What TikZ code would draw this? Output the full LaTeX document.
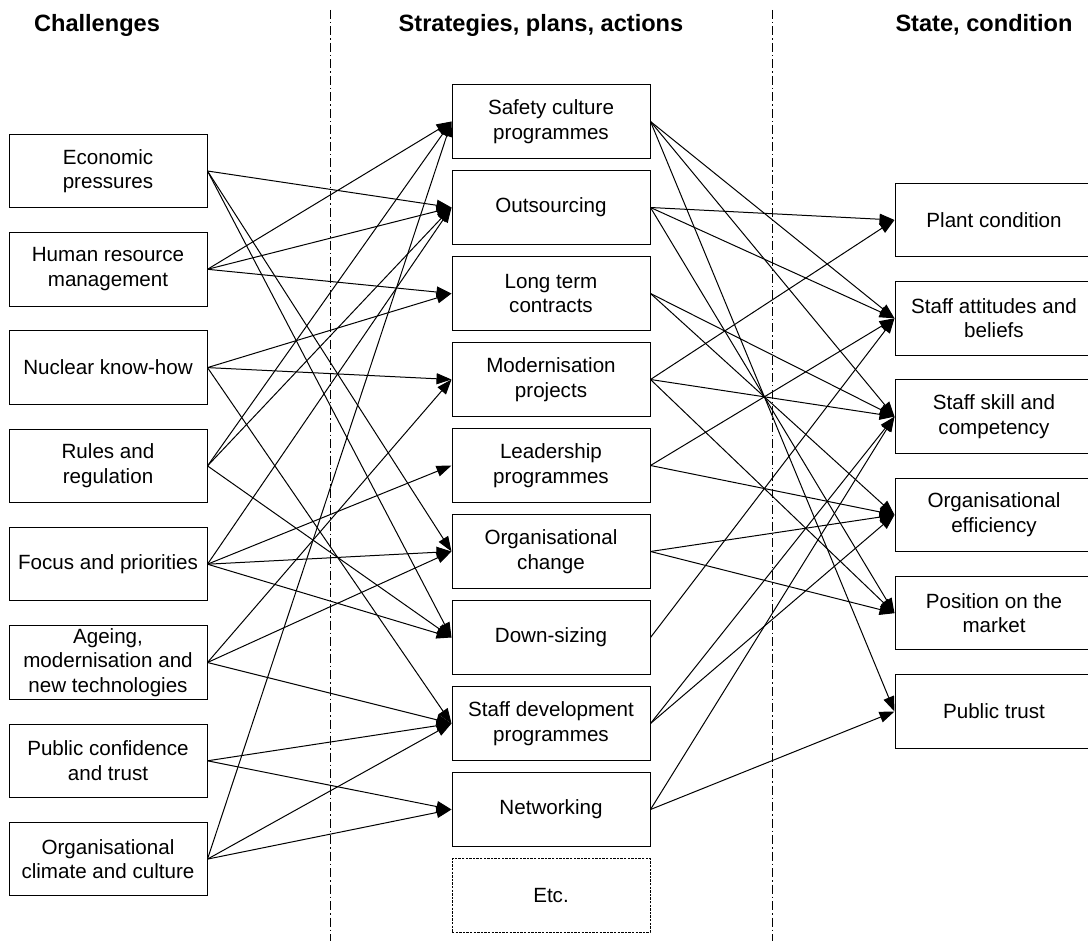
\documentclass[tikz,border=0pt]{standalone}
\usepackage{fontspec}
\setmainfont{Liberation Sans}
\usetikzlibrary{arrows.meta}

\begin{document}
\begin{tikzpicture}[x=0.5pt,y=-0.5pt,
  box/.style={draw,line width=0.5pt,minimum width=99pt,minimum height=36.75pt,
    inner sep=0pt,align=center,font=\fontsize{10.3}{12.3}\selectfont},
  etcbox/.style={box,dash pattern=on 1.2pt off 0.6pt},
  head/.style={font=\fontsize{11.8}{14}\selectfont\bfseries},
  link/.style={line width=0.5pt,-{Triangle[length=7.5pt,width=5.5pt]}},
  divider/.style={line width=0.5pt,dash pattern=on 4.5pt off 1.5pt on 0.75pt off 1.5pt}]
\clip (0,0) rectangle (1088,941);

\node[head] at (97,25) (challenges) {Challenges};
\node[head] at (541,25) (strategies) {Strategies, plans, actions};
\node[head] at (984,25) (state) {State, condition};

\draw[divider] (330,10) -- (330,941);
\draw[divider] (772,10) -- (772,941);

% challenges
\node[box] at (108,171) (econ) {Economic\\pressures};
\node[box] at (108,269.3) (hrm) {Human resource\\management};
\node[box] at (108,367.6) (know) {Nuclear know-how};
\node[box] at (108,465.9) (rules) {Rules and\\regulation};
\node[box] at (108,564.2) (focus) {Focus and priorities};
\node[box] at (108,662.5) (ageing) {Ageing,\\modernisation and\\new technologies};
\node[box] at (108,760.8) (public) {Public confidence\\and trust};
\node[box] at (108,859.1) (climate) {Organisational\\climate and culture};

% strategies, plans, actions
\node[box] at (551,121.5) (safety) {Safety culture\\programmes};
\node[box] at (551,207.5) (outsourcing) {Outsourcing};
\node[box] at (551,293.5) (contracts) {Long term\\contracts};
\node[box] at (551,379.5) (modern) {Modernisation\\projects};
\node[box] at (551,465.5) (leader) {Leadership\\programmes};
\node[box] at (551,551.5) (change) {Organisational\\change};
\node[box] at (551,637.5) (downsize) {Down-sizing};
\node[box] at (551,723.5) (staffdev) {Staff development\\programmes};
\node[box] at (551,809.5) (network) {Networking};
\node[etcbox] at (551,895.5) (etc) {Etc.};

% state, condition
\node[box] at (994,220) (plant) {Plant condition};
\node[box] at (994,318.3) (attitude) {Staff attitudes and\\beliefs};
\node[box] at (994,416.6) (skill) {Staff skill and\\competency};
\node[box] at (994,514.9) (efficiency) {Organisational\\efficiency};
\node[box] at (994,613.2) (market) {Position on the\\market};
\node[box] at (994,711.5) (trust) {Public trust};

% challenges -> strategies
\draw[link] (econ.east) -- (outsourcing.west);
\draw[link] (econ.east) -- (change.west);
\draw[link] (econ.east) -- (downsize.west);
\draw[link] (hrm.east) -- (safety.west);
\draw[link] (hrm.east) -- (outsourcing.west);
\draw[link] (hrm.east) -- (contracts.west);
\draw[link] (know.east) -- (contracts.west);
\draw[link] (know.east) -- (modern.west);
\draw[link] (know.east) -- (staffdev.west);
\draw[link] (rules.east) -- (safety.west);
\draw[link] (rules.east) -- (outsourcing.west);
\draw[link] (rules.east) -- (downsize.west);
\draw[link] (focus.east) -- (outsourcing.west);
\draw[link] (focus.east) -- (leader.west);
\draw[link] (focus.east) -- (change.west);
\draw[link] (focus.east) -- (downsize.west);
\draw[link] (ageing.east) -- (modern.west);
\draw[link] (ageing.east) -- (change.west);
\draw[link] (ageing.east) -- (staffdev.west);
\draw[link] (public.east) -- (staffdev.west);
\draw[link] (public.east) -- (network.west);
\draw[link] (climate.east) -- (safety.west);
\draw[link] (climate.east) -- (staffdev.west);
\draw[link] (climate.east) -- (network.west);

% strategies -> state
\draw[link] (safety.east) -- (attitude.west);
\draw[link] (safety.east) -- (skill.west);
\draw[link] (safety.east) -- (trust.west);
\draw[link] (outsourcing.east) -- (plant.west);
\draw[link] (outsourcing.east) -- (attitude.west);
\draw[link] (outsourcing.east) -- (market.west);
\draw[link] (contracts.east) -- (skill.west);
\draw[link] (contracts.east) -- (efficiency.west);
\draw[link] (modern.east) -- (plant.west);
\draw[link] (modern.east) -- (skill.west);
\draw[link] (modern.east) -- (market.west);
\draw[link] (leader.east) -- (attitude.west);
\draw[link] (leader.east) -- (efficiency.west);
\draw[link] (change.east) -- (efficiency.west);
\draw[link] (change.east) -- (market.west);
\draw[link] (downsize.east) -- (attitude.west);
\draw[link] (staffdev.east) -- (skill.west);
\draw[link] (staffdev.east) -- (efficiency.west);
\draw[link] (network.east) -- (skill.west);
\draw[link] (network.east) -- (trust.west);
\end{tikzpicture}
\end{document}
